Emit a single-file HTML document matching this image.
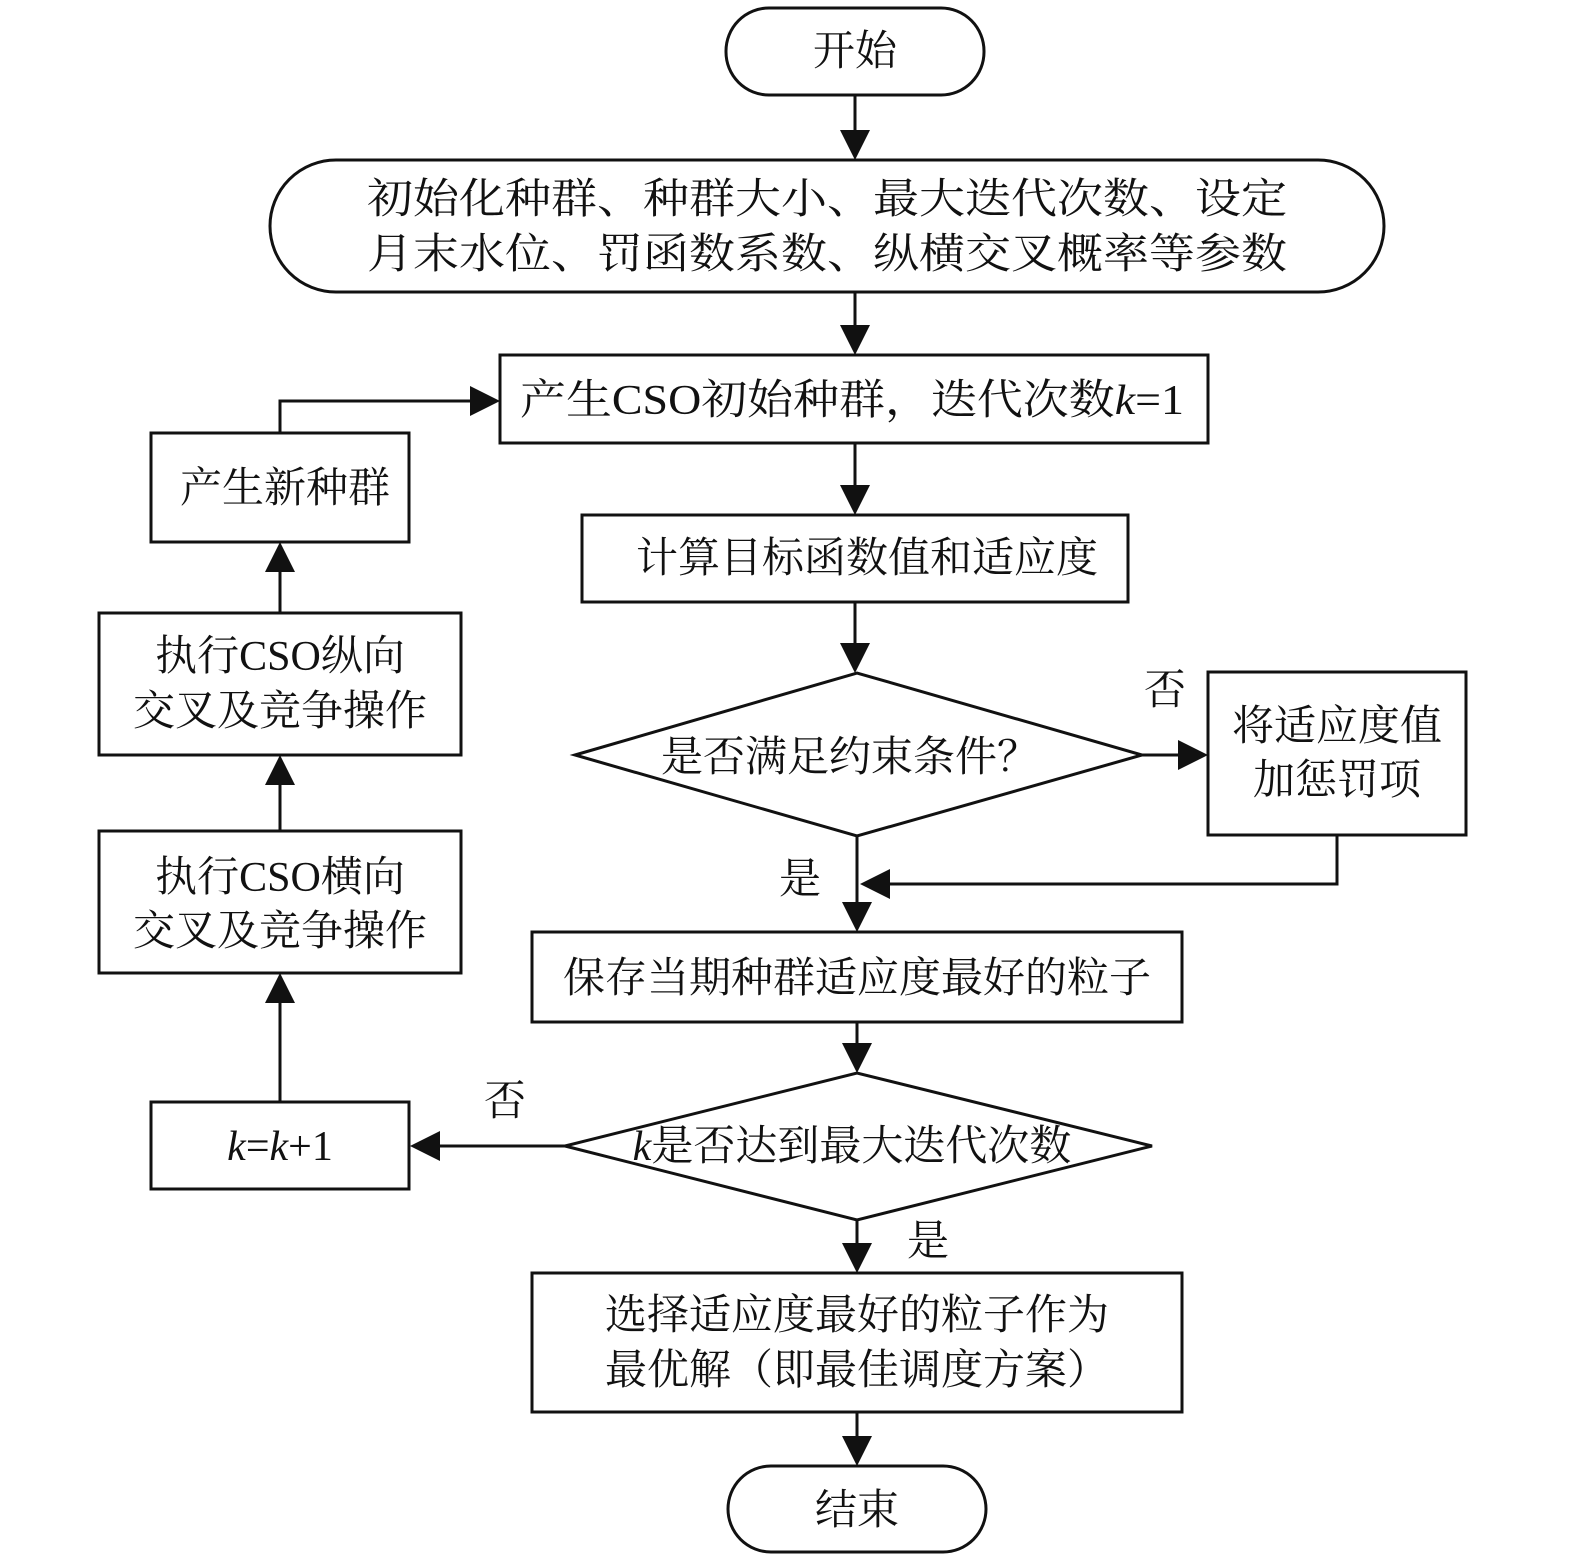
<!DOCTYPE html>
<html><head><meta charset="utf-8"><style>
html,body{margin:0;padding:0;background:#fff}
svg text{font-family:"Liberation Serif","Noto Serif CJK SC",serif;font-size:42px;fill:#111}
</style></head><body>
<svg width="1576" height="1563" viewBox="0 0 1576 1563" xmlns="http://www.w3.org/2000/svg">
<defs>
<marker id="a" viewBox="0 0 10 10" refX="10" refY="5" markerWidth="10" markerHeight="10" markerUnits="userSpaceOnUse" orient="auto">
<path d="M0,0 L10,5 L0,10 z" fill="#111"/></marker>
</defs>
<g fill="none" stroke="#111" stroke-width="3">
<rect x="726" y="8" width="258" height="87" rx="43" fill="#fff"/>
<rect x="270" y="160" width="1114" height="132" rx="66" fill="#fff"/>
<rect x="500" y="355" width="708" height="88"/>
<rect x="582" y="515" width="546" height="87"/>
<polygon points="575,755 857,673 1142,755 857,836"/>
<rect x="1208" y="672" width="258" height="163"/>
<rect x="532" y="932" width="650" height="90"/>
<polygon points="565,1146 857,1073 1152,1146 857,1220"/>
<rect x="151" y="1102" width="258" height="87"/>
<rect x="532" y="1273" width="650" height="139"/>
<rect x="728" y="1466" width="258" height="86" rx="43" fill="#fff"/>
<rect x="99" y="831" width="362" height="142"/>
<rect x="99" y="613" width="362" height="142"/>
<rect x="151" y="433" width="258" height="109"/>
</g>
<g stroke="#111" stroke-width="3" fill="none">
<path d="M855,95 V130"/><path d="M855,292 V325"/><path d="M855,443 V485"/><path d="M855,602 V643"/>
<path d="M1142,755 H1178"/><path d="M1337,835 V884 H890"/><path d="M857,836 V902"/>
<path d="M857,1022 V1043"/><path d="M565,1146 H440"/><path d="M857,1220 V1243"/><path d="M857,1412 V1436"/>
<path d="M280,1102 V1003"/><path d="M280,831 V785"/><path d="M280,613 V572"/><path d="M280,433 V401 H470"/>
</g>
<g fill="#111">
<path d="M840,130 L870,130 L855,160 z"/><path d="M840,325 L870,325 L855,355 z"/><path d="M840,485 L870,485 L855,515 z"/>
<path d="M840,643 L870,643 L855,673 z"/><path d="M1178,740 L1178,770 L1208,755 z"/><path d="M890,869 L890,899 L860,884 z"/>
<path d="M842,902 L872,902 L857,932 z"/><path d="M842,1043 L872,1043 L857,1073 z"/><path d="M440,1131 L440,1161 L410,1146 z"/>
<path d="M842,1243 L872,1243 L857,1273 z"/><path d="M842,1436 L872,1436 L857,1466 z"/>
<path d="M265,1003 L295,1003 L280,973 z"/><path d="M265,785 L295,785 L280,755 z"/><path d="M265,572 L295,572 L280,542 z"/>
<path d="M470,386 L470,416 L500,401 z"/>
</g>
<g text-anchor="middle">
<text x="855" y="65">开始</text>
<text x="827" y="213" textLength="920" lengthAdjust="spacingAndGlyphs">初始化种群、种群大小、最大迭代次数、设定</text>
<text x="827" y="268" textLength="920" lengthAdjust="spacingAndGlyphs">月末水位、罚函数系数、纵横交叉概率等参数</text>
<text x="852" y="414" textLength="664" lengthAdjust="spacingAndGlyphs">产生CSO初始种群，迭代次数<tspan font-style="italic">k</tspan>=1</text>
<text x="867" y="572">计算目标函数值和适应度</text>
<text x="850" y="771">是否满足约束条件？</text>
<text x="1337" y="740">将适应度值</text>
<text x="1337" y="794">加惩罚项</text>
<text x="1165" y="704">否</text>
<text x="800" y="893">是</text>
<text x="857" y="992">保存当期种群适应度最好的粒子</text>
<text x="852" y="1160"><tspan font-style="italic">k</tspan>是否达到最大迭代次数</text>
<text x="505" y="1115">否</text>
<text x="928" y="1255">是</text>
<text x="280" y="1160"><tspan font-style="italic">k</tspan>=<tspan font-style="italic">k</tspan>+1</text>
<text x="857" y="1329">选择适应度最好的粒子作为</text>
<text x="857" y="1384">最优解（即最佳调度方案）</text>
<text x="857" y="1524">结束</text>
<text x="280" y="891">执行CSO横向</text>
<text x="280" y="945">交叉及竞争操作</text>
<text x="280" y="670">执行CSO纵向</text>
<text x="280" y="725">交叉及竞争操作</text>
<text x="285" y="502">产生新种群</text>
</g>
</svg>
</body></html>
